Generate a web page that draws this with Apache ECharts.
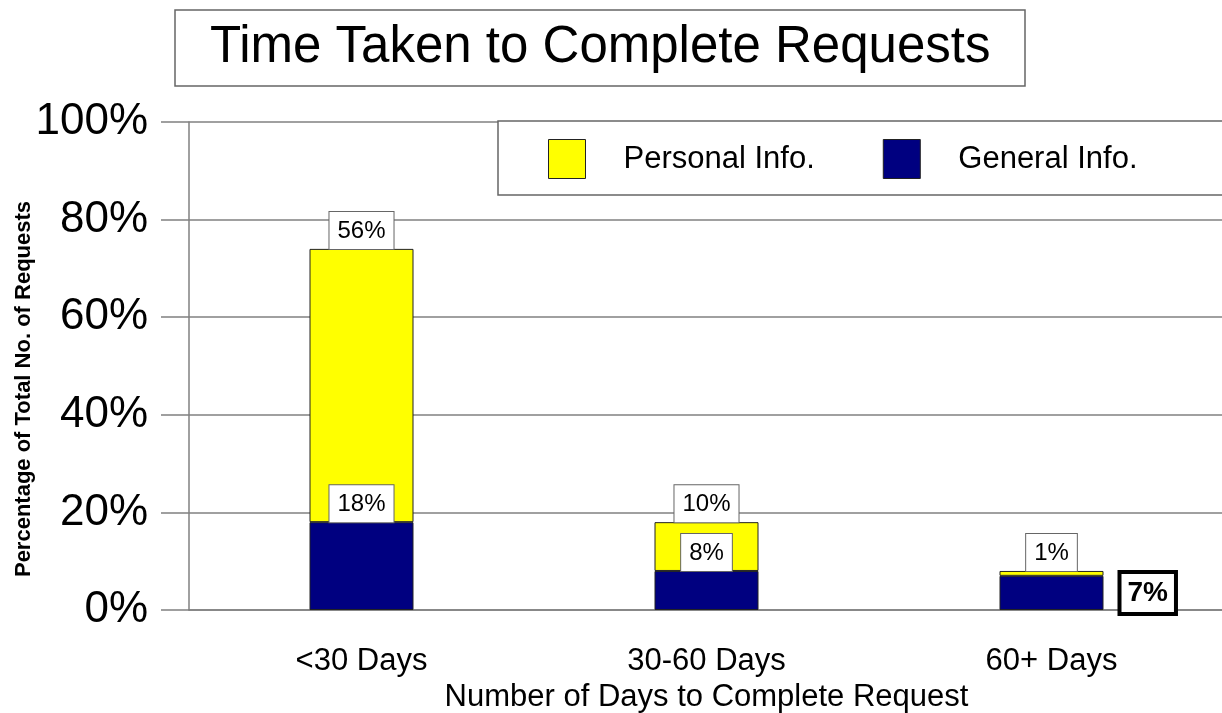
<!DOCTYPE html>
<html>
<head>
<meta charset="utf-8">
<script src="https://cdn.jsdelivr.net/npm/echarts@6/dist/echarts.min.js"></script>
<style>
  html, body { margin: 0; padding: 0; background: #fff; }
  #chart { width: 1222px; height: 713px; }
</style>
</head>
<body>
<div id="chart"></div>
<script>
const categories = ['<30 Days', '30-60 Days', '60+ Days']
const generalInfo = [18, 8, 7]
const personalInfo = [56, 10, 1]
const yTicks = [0, 20, 40, 60, 80, 100]

const chart = echarts.init(document.getElementById('chart'))
const FONT = '"Liberation Sans", Arial, sans-serif'
const GRAY = '#808080'

// white boxed value labels, like the original
const boxLabel = {
  show: true,
  position: 'top',
  distance: 0,
  formatter: '{c}%',
  color: '#000',
  fontFamily: FONT,
  fontSize: 24,
  backgroundColor: '#fff',
  borderColor: '#666',
  borderWidth: 1,
  padding: [7, 8, 6, 8],
}

// the last general value is called out to the right in a bold box
const generalData = generalInfo.map((v, i) => {
  if (i !== generalInfo.length - 1) return v
  return {
    value: v,
    label: {
      position: 'right',
      distance: 18,
      fontWeight: 'bold',
      fontSize: 28,
      borderColor: '#000',
      borderWidth: 4,
      padding: [6, 6, 4, 6],
    },
  }
})

const option = {
  animation: false,
  title: {
    text: 'Time Taken to Complete Requests',
    left: 175,
    top: 10,
    padding: [10, 35, 10, 35],
    borderColor: '#666',
    borderWidth: 1.5,
    textStyle: {
      fontFamily: FONT,
      fontSize: 51,
      fontWeight: 'normal',
      color: '#000',
      lineHeight: 56,
    },
  },
  legend: {
    data: ['Personal Info.', 'General Info.'],
    orient: 'horizontal',
    left: 498,
    top: 121,
    width: 900,
    padding: [18, 120, 16, 50],
    itemWidth: 37,
    itemHeight: 39,
    itemGap: 68,
    selectedMode: false,
    borderColor: '#666',
    borderWidth: 1.5,
    backgroundColor: '#fff',
    icon: 'rect',
    itemStyle: { borderColor: '#222', borderWidth: 1 },
    textStyle: {
      fontFamily: FONT,
      fontSize: 31,
      color: '#000',
      padding: [4, 0, 0, 33],
    },
  },
  grid: {
    left: 189,
    top: 122,
    width: 1035,
    bottom: 103,
    containLabel: false,
    outerBoundsMode: 'none',
  },
  xAxis: {
    type: 'category',
    data: categories,
    name: 'Number of Days to Complete Request',
    nameLocation: 'middle',
    nameGap: 71,
    nameTextStyle: { fontFamily: FONT, fontSize: 31, color: '#000' },
    axisLine: { lineStyle: { color: GRAY, width: 1.5 } },
    axisTick: { alignWithLabel: true, length: 18, lineStyle: { color: GRAY, width: 1.5 } },
    axisLabel: { fontFamily: FONT, fontSize: 31, color: '#000', margin: 36 },
  },
  yAxis: {
    type: 'value',
    min: yTicks[0],
    max: yTicks[yTicks.length - 1],
    interval: yTicks[1] - yTicks[0],
    name: 'Percentage of Total No. of Requests',
    nameLocation: 'middle',
    nameGap: 154,
    nameMoveOverlap: false,
    nameTextStyle: {
      fontFamily: FONT,
      fontSize: 22,
      fontWeight: 'bold',
      color: '#000',
      padding: [0, 46, 0, 0],
    },
    axisLine: { show: true, lineStyle: { color: GRAY, width: 1.5 } },
    axisTick: { show: true, length: 28, lineStyle: { color: GRAY, width: 1.5 } },
    axisLabel: { fontFamily: FONT, fontSize: 44, color: '#000', margin: 41, formatter: '{value}%' },
    splitLine: { lineStyle: { color: GRAY, width: 1.5 } },
  },
  series: [
    {
      name: 'General Info.',
      type: 'bar',
      stack: 'total',
      barWidth: 104,
      data: generalData,
      itemStyle: { color: '#000080', borderColor: '#222', borderWidth: 1 },
      label: boxLabel,
    },
    {
      name: 'Personal Info.',
      type: 'bar',
      stack: 'total',
      barWidth: 104,
      data: personalInfo,
      itemStyle: { color: '#ffff00', borderColor: '#222', borderWidth: 1 },
      label: boxLabel,
    },
  ],
}

chart.setOption(option)
</script>
</body>
</html>
